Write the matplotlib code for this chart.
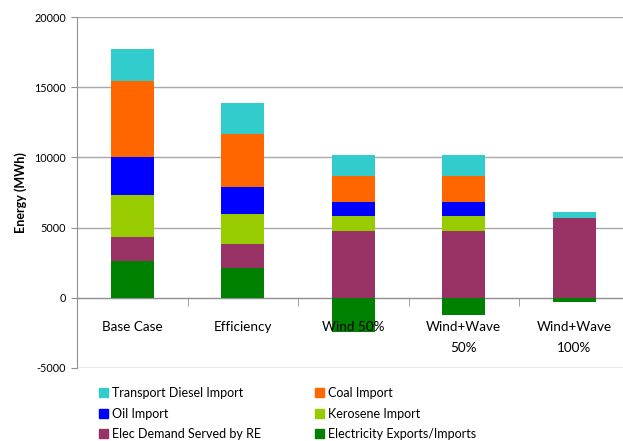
import matplotlib
matplotlib.use("Agg")
import matplotlib.pyplot as plt
from matplotlib.patches import Patch
import numpy as np

plt.rcParams['font.family'] = ['Lato', 'DejaVu Sans']
plt.rcParams['axes.unicode_minus'] = False

categories = ["Base Case", "Efficiency", "Wind 50%", "Wind+Wave\n50%", "Wind+Wave\n100%"]
series_names = ["Transport Diesel Import", "Coal Import", "Oil Import",
                "Kerosene Import", "Elec Demand Served by RE", "Electricity Exports/Imports"]
elec_exports = [2600, 2100, -2450, -1250, -300]
elec_re = [1700, 1700, 4750, 4750, 5650]
kerosene = [3050, 2200, 1050, 1050, 0]
oil = [2700, 1900, 1000, 1000, 0]
coal = [5400, 3750, 1900, 1900, 0]
diesel = [2250, 2250, 1500, 1500, 450]
colors = {"Transport Diesel Import": "#33CCCC", "Coal Import": "#FF6600",
          "Oil Import": "#0000FF", "Kerosene Import": "#99CC00",
          "Elec Demand Served by RE": "#993366", "Electricity Exports/Imports": "#008000"}

W, H = 623, 441
fig = plt.figure(figsize=(W/100, H/100), dpi=100)
ax = fig.add_axes([77/W, (H-368)/H, 546/W, 351/H])

x = np.arange(len(categories))
bw = 0.39
ax.bar(x, elec_exports, bw, color=colors["Electricity Exports/Imports"], zorder=2)
pos_base = np.clip(np.array(elec_exports, float), 0, None)
stack = [("Elec Demand Served by RE", elec_re), ("Kerosene Import", kerosene),
         ("Oil Import", oil), ("Coal Import", coal), ("Transport Diesel Import", diesel)]
bottom = pos_base.copy()
for name, vals in stack:
    v = np.array(vals, float)
    ax.bar(x, v, bw, bottom=bottom, color=colors[name], zorder=2)
    bottom += v

ax.set_xlim(-0.5, -0.5 + 546/110.5)
ax.set_ylim(-5000, 20000)
ax.set_yticks([-5000, 0, 5000, 10000, 15000, 20000])
ax.yaxis.grid(True, color="#A8A8A8", linewidth=1)
ax.set_axisbelow(True)
for s in ["top", "right"]:
    ax.spines[s].set_visible(False)
ax.spines["left"].set_color("#909090")
ax.spines["bottom"].set_position(("data", 0))
ax.spines["bottom"].set_color("#909090")
ax.spines["bottom"].set_zorder(1.5)
ax.tick_params(axis="y", length=4, color="#909090", pad=4, labelsize=7.8)
ax.set_xticks(x)
ax.set_xticklabels(categories)
ax.tick_params(axis="x", length=0, pad=17)
ax.set_xticks(np.arange(len(categories) - 1) + 0.5, minor=True)
ax.tick_params(axis="x", which="minor", length=6, color="#909090")
for t in ax.get_xticklabels():
    t.set_fontsize(9.7)
    t.set_linespacing(1.9)
ax.xaxis.set_zorder(3)
ax.set_ylabel("Energy (MWh)", fontsize=9, fontweight="bold", labelpad=5)

col1 = ["Transport Diesel Import", "Oil Import", "Elec Demand Served by RE"]
col2 = ["Coal Import", "Kerosene Import", "Electricity Exports/Imports"]
kw = dict(loc="upper left", frameon=False, fontsize=9, borderpad=0,
          handlelength=0.7, handleheight=0.7, handletextpad=0.3, labelspacing=0.68,
          borderaxespad=0)
leg1 = fig.legend([Patch(color=colors[n]) for n in col1], col1,
                  bbox_to_anchor=(99/W, 1-387/H), **kw)
leg2 = fig.legend([Patch(color=colors[n]) for n in col2], col2,
                  bbox_to_anchor=(315/W, 1-387/H), **kw)
fig.savefig("out.png", dpi=100)
